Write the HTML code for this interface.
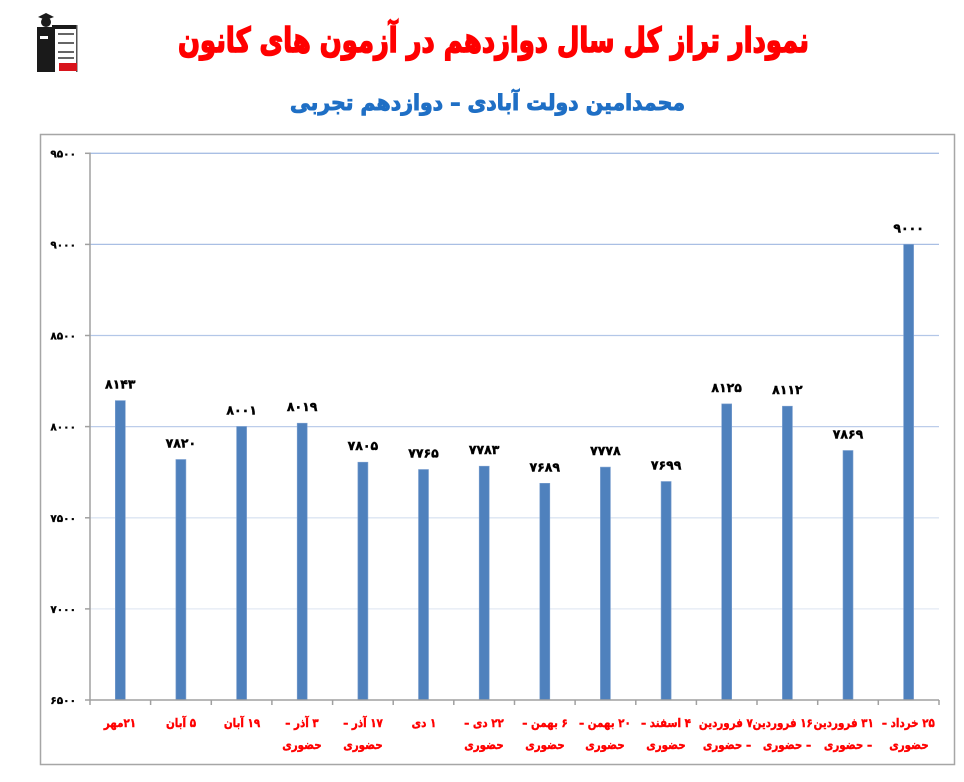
<!DOCTYPE html>
<html><head><meta charset="utf-8">
<style>
html,body{margin:0;padding:0;background:#fff;}
body{width:964px;height:782px;position:relative;overflow:hidden;font-family:"DejaVu Sans","Liberation Sans",sans-serif;}
.xl{position:absolute;width:60px;text-align:center;direction:rtl;color:#ff0000;font-weight:bold;font-size:12px;line-height:22px;font-family:"DejaVu Sans",sans-serif;white-space:nowrap;-webkit-text-stroke:0.4px #ff0000;transform:scaleX(0.86);transform-origin:50% 0;}
</style></head>
<body>
<svg width="964" height="782" viewBox="0 0 964 782" style="position:absolute;left:0;top:0">
  <!-- logo -->
  <g>
    <rect x="37" y="27" width="18" height="45" fill="#1a1a1a"/>
    <circle cx="46" cy="22" r="5" fill="#1a1a1a"/>
    <polygon points="38,17 46,13 54,17 46,20" fill="#1a1a1a"/>
    <rect x="52" y="25" width="25" height="4" fill="#1a1a1a"/>
    <rect x="76" y="25" width="1.5" height="47" fill="#555"/>
    <rect x="40" y="36" width="8" height="3" fill="#fff"/>
    <rect x="58" y="33" width="16" height="2" fill="#666"/>
    <rect x="58" y="42" width="16" height="2" fill="#666"/>
    <rect x="58" y="51" width="16" height="2" fill="#666"/>
    <rect x="58" y="57" width="16" height="2" fill="#666"/>
    <rect x="59" y="63" width="18" height="8" fill="#d8141c"/>
  </g>
  <!-- titles -->
  <text x="493.5" y="52" text-anchor="middle" textLength="631" lengthAdjust="spacingAndGlyphs" font-size="34" font-weight="bold" fill="#ff0000" stroke="#ff0000" stroke-width="1.6" direction="rtl" font-family="DejaVu Sans, sans-serif">نمودار تراز کل سال دوازدهم در آزمون های کانون</text>
  <text x="487.5" y="110" text-anchor="middle" textLength="395" lengthAdjust="spacingAndGlyphs" font-size="22" font-weight="bold" fill="#1f6fc5" stroke="#1f6fc5" stroke-width="1" direction="rtl" font-family="DejaVu Sans, sans-serif">محمدامین دولت آبادی – دوازدهم تجربی</text>
  <!-- chart border -->
  <rect x="40.5" y="134.5" width="914" height="630" fill="none" stroke="#a6a6a6" stroke-width="1.5"/>
  <!-- gridlines -->
  <g stroke-width="1.3">
    <line x1="90" y1="153.3" x2="939" y2="153.3" stroke="#a9bfe4"/>
    <line x1="90" y1="244.4" x2="939" y2="244.4" stroke="#a9bfe4"/>
    <line x1="90" y1="335.5" x2="939" y2="335.5" stroke="#b3c7e8"/>
    <line x1="90" y1="426.6" x2="939" y2="426.6" stroke="#bccdea"/>
    <line x1="90" y1="517.8" x2="939" y2="517.8" stroke="#dbe5f2"/>
    <line x1="90" y1="608.9" x2="939" y2="608.9" stroke="#e3eaf4"/>
  </g>
  <!-- bars -->
  <g fill="#4f81bd" stroke="#7b9fcf" stroke-width="0.6">
    <rect x="115.3" y="400.6" width="10" height="299.4"/>
    <rect x="175.9" y="459.5" width="10" height="240.5"/>
    <rect x="236.6" y="426.5" width="10" height="273.5"/>
    <rect x="297.2" y="423.2" width="10" height="276.8"/>
    <rect x="357.9" y="462.2" width="10" height="237.8"/>
    <rect x="418.5" y="469.5" width="10" height="230.5"/>
    <rect x="479.2" y="466.2" width="10" height="233.8"/>
    <rect x="539.8" y="483.3" width="10" height="216.7"/>
    <rect x="600.4" y="467.1" width="10" height="232.9"/>
    <rect x="661.1" y="481.5" width="10" height="218.5"/>
    <rect x="721.7" y="403.9" width="10" height="296.1"/>
    <rect x="782.4" y="406.2" width="10" height="293.8"/>
    <rect x="843.0" y="450.5" width="10" height="249.5"/>
    <rect x="903.6" y="244.4" width="10" height="455.6"/>
  </g>
  <!-- axes -->
  <g stroke="#a0a0a0" stroke-width="1.5">
    <line x1="90" y1="152.5" x2="90" y2="705"/>
    <line x1="85" y1="700" x2="939" y2="700"/>
    <line x1="85" y1="153.3" x2="90" y2="153.3"/>
    <line x1="85" y1="244.4" x2="90" y2="244.4"/>
    <line x1="85" y1="335.5" x2="90" y2="335.5"/>
    <line x1="85" y1="426.6" x2="90" y2="426.6"/>
    <line x1="85" y1="517.8" x2="90" y2="517.8"/>
    <line x1="85" y1="608.9" x2="90" y2="608.9"/>
    <line x1="150.6" y1="700" x2="150.6" y2="705"/>
    <line x1="211.3" y1="700" x2="211.3" y2="705"/>
    <line x1="271.9" y1="700" x2="271.9" y2="705"/>
    <line x1="332.6" y1="700" x2="332.6" y2="705"/>
    <line x1="393.2" y1="700" x2="393.2" y2="705"/>
    <line x1="453.8" y1="700" x2="453.8" y2="705"/>
    <line x1="514.5" y1="700" x2="514.5" y2="705"/>
    <line x1="575.1" y1="700" x2="575.1" y2="705"/>
    <line x1="635.8" y1="700" x2="635.8" y2="705"/>
    <line x1="696.4" y1="700" x2="696.4" y2="705"/>
    <line x1="757.0" y1="700" x2="757.0" y2="705"/>
    <line x1="817.7" y1="700" x2="817.7" y2="705"/>
    <line x1="878.3" y1="700" x2="878.3" y2="705"/>
    <line x1="939" y1="700" x2="939" y2="705"/>
  </g>
  <!-- y labels -->
  <g font-size="10.5" font-weight="bold" fill="#000" stroke="#000" stroke-width="0.3" text-anchor="end" font-family="DejaVu Sans, sans-serif">
    <text x="76" y="157.3">۹۵۰۰</text>
    <text x="76" y="248.4">۹۰۰۰</text>
    <text x="76" y="339.5">۸۵۰۰</text>
    <text x="76" y="430.6">۸۰۰۰</text>
    <text x="76" y="521.8">۷۵۰۰</text>
    <text x="76" y="612.9">۷۰۰۰</text>
    <text x="76" y="704">۶۵۰۰</text>
  </g>
  <!-- value labels -->
  <g font-size="12.5" font-weight="bold" fill="#000" stroke="#000" stroke-width="0.4" text-anchor="middle" font-family="DejaVu Sans, sans-serif">
    <text x="120.3" y="388.6">۸۱۴۳</text>
    <text x="180.9" y="447.5">۷۸۲۰</text>
    <text x="241.6" y="414.5">۸۰۰۱</text>
    <text x="302.2" y="411.2">۸۰۱۹</text>
    <text x="362.9" y="450.2">۷۸۰۵</text>
    <text x="423.5" y="457.5">۷۷۶۵</text>
    <text x="484.2" y="454.2">۷۷۸۳</text>
    <text x="544.8" y="471.3">۷۶۸۹</text>
    <text x="605.4" y="455.1">۷۷۷۸</text>
    <text x="666.1" y="469.5">۷۶۹۹</text>
    <text x="726.7" y="391.9">۸۱۲۵</text>
    <text x="787.4" y="394.2">۸۱۱۲</text>
    <text x="848.0" y="438.5">۷۸۶۹</text>
    <text x="908.6" y="232.4">۹۰۰۰</text>
  </g>
</svg>
<!-- x labels -->
<div class="xl" style="left:90.3px;top:712px">۲۱مهر</div>
<div class="xl" style="left:150.9px;top:712px">۵ آبان</div>
<div class="xl" style="left:211.6px;top:712px">۱۹ آبان</div>
<div class="xl" style="left:272.2px;top:712px">۳ آذر –<br>حضوری</div>
<div class="xl" style="left:332.9px;top:712px">۱۷ آذر –<br>حضوری</div>
<div class="xl" style="left:393.5px;top:712px">۱ دی</div>
<div class="xl" style="left:454.2px;top:712px">۲۲ دی –<br>حضوری</div>
<div class="xl" style="left:514.8px;top:712px">۶ بهمن –<br>حضوری</div>
<div class="xl" style="left:575.4px;top:712px">۲۰ بهمن –<br>حضوری</div>
<div class="xl" style="left:636.1px;top:712px">۴ اسفند –<br>حضوری</div>
<div class="xl" style="left:696.7px;top:712px">۷ فروردین<br>– حضوری</div>
<div class="xl" style="left:757.4px;top:712px">۱۶ فروردین<br>– حضوری</div>
<div class="xl" style="left:818.0px;top:712px">۳۱ فروردین<br>– حضوری</div>
<div class="xl" style="left:878.6px;top:712px">۲۵ خرداد –<br>حضوری</div>
</body></html>
